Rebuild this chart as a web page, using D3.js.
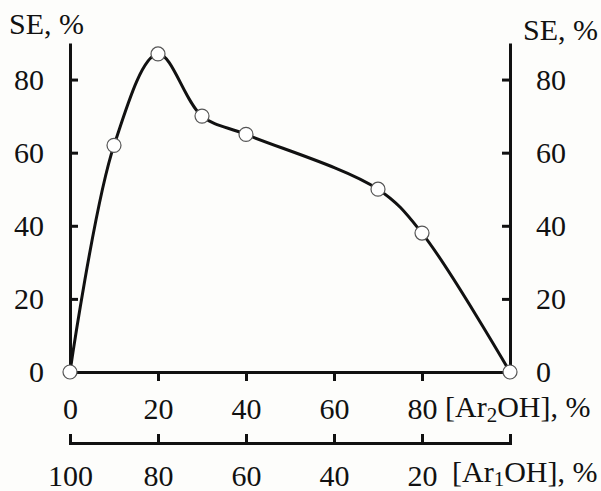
<!DOCTYPE html>
<html>
<head>
<meta charset="utf-8">
<script src="https://cdn.jsdelivr.net/npm/d3@7"></script>
<style>
  body { margin: 0; background: #fdfdfb; }
  text { font-family: "Liberation Serif", "Times New Roman", serif; fill: #111; }
</style>
</head>
<body>
<div id="chart"></div>
<script>
// data
var ar2 = [0, 10, 20, 30, 40, 70, 80, 100];
var se = [0, 62, 87, 70, 65, 50, 38, 0];
var yTicks = [0, 20, 40, 60, 80];
var xTicks = [0, 20, 40, 60, 80];
var ar1Ticks = [100, 80, 60, 40, 20];

var W = 601, H = 491;
var fs = 30;

var svg = d3.select("#chart").append("svg")
  .attr("width", W).attr("height", H);

var x = d3.scaleLinear().domain([0, 100]).range([70, 510]);
var x1 = d3.scaleLinear().domain([100, 0]).range([70, 510]);
var y = d3.scaleLinear().domain([0, 90]).range([372, 43]);

function styleAxis(g) {
  g.attr("font-family", null);
  g.select(".domain").attr("stroke", "#111").attr("stroke-width", 3);
  g.selectAll(".tick line").attr("stroke", "#111").attr("stroke-width", 3);
  g.selectAll(".tick text").style("font-size", fs + "px")
    .style("font-family", "Liberation Serif").attr("fill", "#111");
}

// left axis
var yl = svg.append("g").attr("transform", "translate(70,0)")
  .call(d3.axisLeft(y).tickValues(yTicks).tickSizeInner(-8).tickSizeOuter(0).tickPadding(26));
styleAxis(yl);

// right axis
var yr = svg.append("g").attr("transform", "translate(510,0)")
  .call(d3.axisRight(y).tickValues(yTicks).tickSizeInner(-8).tickSizeOuter(0).tickPadding(26));
styleAxis(yr);

// bottom axis, Ar2OH
var xb = svg.append("g").attr("transform", "translate(0,372)")
  .call(d3.axisBottom(x).tickValues(xTicks).tickSizeInner(9).tickSizeOuter(0).tickPadding(17));
styleAxis(xb);
xb.selectAll(".tick").filter(function(d) { return d === 0; }).select("line").remove();

// second axis, Ar1OH
var xb2 = svg.append("g").attr("transform", "translate(0,443)")
  .call(d3.axisBottom(x1).tickValues(ar1Ticks).tickSizeInner(-9).tickSizeOuter(-9).tickPadding(22));
styleAxis(xb2);

// titles
svg.append("text").attr("x", 9).attr("y", 34).style("font-size", fs + "px").text("SE, %");
svg.append("text").attr("x", 523).attr("y", 40).style("font-size", fs + "px").text("SE, %");

var t2 = svg.append("text").attr("x", 445).attr("y", 417).style("font-size", fs + "px");
t2.append("tspan").text("[Ar");
t2.append("tspan").attr("dy", 5).style("font-size", "21px").text("2");
t2.append("tspan").attr("dy", -5).text("OH], %");

var t1 = svg.append("text").attr("x", 452).attr("y", 482).style("font-size", fs + "px");
t1.append("tspan").text("[Ar");
t1.append("tspan").attr("dy", 4).style("font-size", "21px").text("1");
t1.append("tspan").attr("dy", -4).text("OH], %");

// curve
var pts = ar2.map(function(d, i) { return [d, se[i]]; });
var line = d3.line()
  .x(function(d) { return x(d[0]); })
  .y(function(d) { return y(d[1]); })
  .curve(d3.curveCatmullRom.alpha(0.5));

svg.append("path").datum(pts)
  .attr("d", line)
  .attr("fill", "none")
  .attr("stroke", "#111")
  .attr("stroke-width", 3);

svg.selectAll("circle.pt").data(pts).enter().append("circle")
  .attr("class", "pt")
  .attr("cx", function(d) { return x(d[0]); })
  .attr("cy", function(d) { return y(d[1]); })
  .attr("r", 7)
  .attr("fill", "#fff")
  .attr("stroke", "#555")
  .attr("stroke-width", 1.2);
</script>
</body>
</html>
